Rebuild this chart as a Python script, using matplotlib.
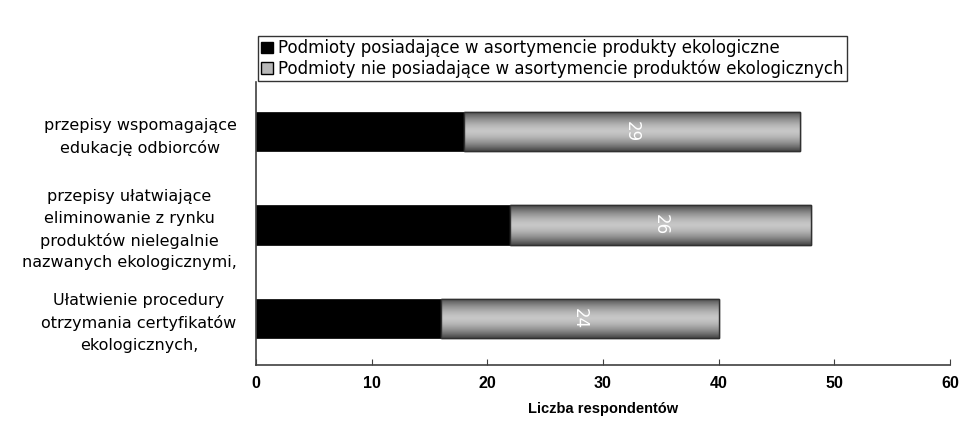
import matplotlib
matplotlib.use("Agg")
import matplotlib.pyplot as plt
import numpy as np
from matplotlib.patches import Patch

plt.rcParams['font.family'] = ['DejaVu Sans']

categories = [
    "Ułatwienie procedury\notrzymania certyfikatów\nekologicznych,",
    "przepisy ułatwiające\neliminowanie z rynku\nproduktów nielegalnie\nnazwanych ekologicznymi,",
    "przepisy wspomagające\nedukację odbiorców",
]
with_eco = [16, 22, 18]
without_eco = [24, 26, 29]
series_names = [
    "Podmioty posiadające w asortymencie produkty ekologiczne",
    "Podmioty nie posiadające w asortymencie produktów ekologicznych",
]
xticks = [0, 10, 20, 30, 40, 50, 60]
xlabel = "Liczba respondentów"

fig = plt.figure(figsize=(9.62, 4.25), dpi=100)
ax = fig.add_axes([256/962, 1-365/425, (950-256)/962, 280/425])

y = np.arange(len(categories))
h = 0.42
b1 = ax.barh(y, with_eco, height=h, color='black', edgecolor='black', linewidth=0.5)
b2 = ax.barh(y, without_eco, left=with_eco, height=h, color='#b0b0b0',
             edgecolor='#303030', linewidth=1.0)

t = np.linspace(0, 1, 64)
prof = 1 - np.abs(2*t - 1)**1.6
vals = 0.28 + 0.50*prof
grad = np.tile(vals[:, None], (1, 2))
for r in b2:
    x0, y0, w, hh = r.get_x(), r.get_y(), r.get_width(), r.get_height()
    im = ax.imshow(grad, cmap='gray', vmin=0, vmax=1, aspect='auto',
                   extent=[x0, x0+w, y0, y0+hh], zorder=r.get_zorder()+0.1,
                   interpolation='bilinear')
    im.set_clip_path(r)
    ax.add_patch(plt.Rectangle((x0, y0), w, hh, fill=False, edgecolor='#303030',
                               linewidth=1.0, zorder=r.get_zorder()+0.2))

for i, (a, b) in enumerate(zip(with_eco, without_eco)):
    ax.text(a + b/2, i, str(b), rotation=270, color='white', ha='center',
            va='center', fontsize=12, zorder=5)

ax.set_xlim(0, 60)
ax.set_ylim(-0.5, len(categories)-0.5)
ax.set_xticks(xticks)
ax.set_xticklabels([str(v) for v in xticks], fontsize=11.5, fontweight='bold',
                   family=['Liberation Sans'])
ax.set_yticks(y)
ax.set_yticklabels(categories, fontsize=11.5, multialignment='center', linespacing=1.55)
ax.tick_params(axis='y', length=0, pad=14)
ax.tick_params(axis='x', length=4, direction='in', pad=8, color='#404040')
ax.set_xlabel(xlabel, fontsize=10.5, fontweight='bold', labelpad=8,
              family=['Liberation Sans'])
for s in ['top', 'right']:
    ax.spines[s].set_visible(False)
ax.spines['left'].set_color('#404040')
ax.spines['bottom'].set_color('#404040')
ax.spines['left'].set_linewidth(1.2)
ax.spines['bottom'].set_linewidth(1.2)
ax.spines['left'].set_bounds(-0.5, 2.53)

handles = [Patch(facecolor='black', edgecolor='black'),
           Patch(facecolor='#b8b8b8', edgecolor='black')]
leg = fig.legend(handles, series_names, loc='upper left',
                 bbox_to_anchor=(258/962, 1-36/425), fontsize=12,
                 frameon=True, fancybox=False, handlelength=0.7,
                 handleheight=0.7, handletextpad=0.3, borderpad=0.2,
                 labelspacing=0.1, borderaxespad=0)
leg.get_frame().set_edgecolor('black')
leg.get_frame().set_linewidth(1.0)

fig.savefig('out.png', dpi=100)
